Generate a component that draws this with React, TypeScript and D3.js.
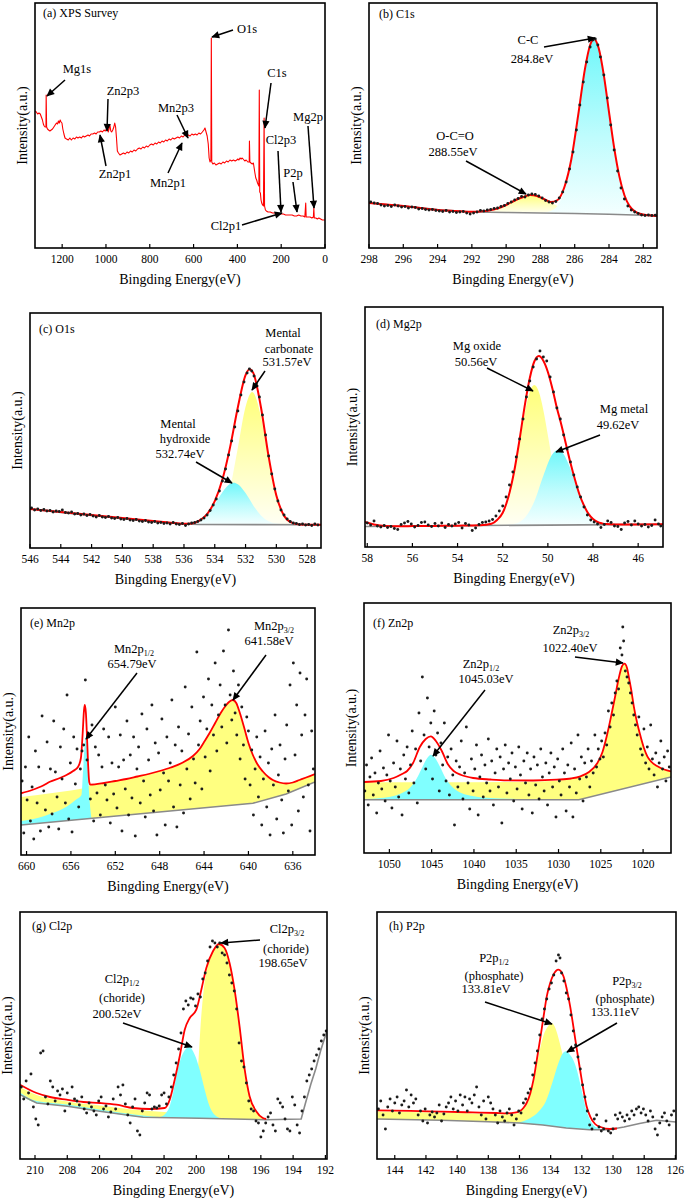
import React from 'react';
import * as d3 from 'd3';

type Pt = [number, number];

// ================= DATA =================
// (a) survey
const surveyA: Pt[] = [[1324,137],[1318,136],[1312,134],[1306,135],[1300,134],[1295,131],[1290,128],[1286,124],[1282,122],[1278,121],[1274,121],[1273,153],[1271,121],[1267,119],[1262,118],[1256,117],[1250,118],[1244,119],[1238,121],[1232,123],[1226,125],[1221,124],[1217,127],[1213,125],[1209,128],[1205,126],[1201,125],[1197,119],[1192,114],[1187,110],[1180,109],[1172,108],[1165,110],[1158,108],[1150,110],[1142,109],[1135,111],[1128,110],[1120,111],[1112,110],[1105,112],[1098,111],[1090,112],[1082,113],[1075,112],[1068,114],[1060,114],[1052,115],[1045,114],[1038,116],[1030,116],[1023,117],[1016,116],[1009,118],[1003,117],[998,119],[994,122],[990,116],[986,119],[982,123],[978,117],[974,116],[969,118],[964,121],[960,125],[956,121],[952,110],[948,97],[943,95],[936,93],[928,94],[920,95],[912,94],[904,96],[896,95],[888,97],[880,96],[872,98],[864,97],[856,99],[848,100],[840,99],[832,101],[824,100],[816,102],[808,101],[800,103],[792,104],[784,103],[776,105],[768,104],[760,106],[752,105],[744,107],[736,106],[728,108],[720,107],[712,109],[704,108],[696,110],[688,109],[680,110],[672,111],[664,110],[656,112],[648,111],[640,113],[632,112],[624,113],[616,112],[608,114],[600,113],[592,114],[584,113],[576,115],[568,114],[560,116],[553,118],[548,120],[543,116],[538,112],[533,104],[529,90],[525,86],[521,88],[519,210],[517,86],[512,84],[505,85],[498,83],[490,84],[482,85],[474,84],[466,86],[458,85],[450,87],[442,86],[434,88],[426,87],[418,88],[410,87],[403,88],[398,89],[393,88],[388,90],[383,89],[378,90],[374,89],[370,88],[366,87],[360,88],[352,86],[346,86],[345,107],[343,86],[338,85],[332,84],[327,85],[320,75],[316,70],[312,68],[308,65],[304,63],[302,62],[300,158],[298,56],[295,55],[292,48],[289,45],[285,43],[281,42],[278,130],[276,42],[272,38],[268,37],[260,36],[250,36],[240,35],[230,35],[220,35],[210,34],[200,34],[190,34],[180,33],[170,33],[160,33],[150,33],[140,32],[130,32],[120,33],[110,32],[100,32],[92,31],[88,45],[86,31],[78,31],[68,31],[60,30],[53,31],[51,40],[49,30],[42,30],[35,29],[28,30],[20,29],[12,28],[5,28],[0,28]];
const ticksA = [1200, 1000, 800, 600, 400, 200, 0];

// (b) C1s
const ticksB = [298, 296, 294, 292, 290, 288, 286, 284, 282];
const baseB: Pt[] = [[298,45],[296,42],[294,38.5],[292,36],[290,35.5],[288,35],[286,34.5],[284,33.8],[282,32.8],[281.2,32]];
const fitB: Pt[] = [[298,45],[297,43.5],[296,42],[295,40],[294,38],[293,37],[292,36.2],[291.5,36.6],[291,37.5],[290.5,39.5],[290,43],[289.5,47.5],[289,51],[288.6,53],[288.2,52],[287.8,49],[287.4,46],[287,48],[286.6,61],[286.2,88.5],[285.8,132.6],[285.4,179.4],[285.1,203],[284.88,209],[284.6,199.7],[284.3,172.6],[284,136],[283.7,100.3],[283.4,71.9],[283.1,52.8],[282.8,41.9],[282.5,36.6],[282,33.4],[281.2,32]];
const ccB: Pt[] = [[288.4,35],[287.9,35.3],[287.4,37],[286.9,45],[286.6,57],[286.2,86.8],[285.8,131.8],[285.4,179],[285.1,203],[284.88,209],[284.6,199.7],[284.3,172.6],[284,136],[283.7,100.3],[283.4,71.9],[283.1,52.8],[282.8,41.9],[282.5,36.6],[282,33.4],[281.2,32]];
const ocoB: Pt[] = [[291.85,35.8],[291.2,36.7],[290.55,39.4],[289.9,44.6],[289.25,50.6],[288.6,53.5],[287.95,50.6],[287.3,44.4],[286.65,39.2],[286,36.4],[285.35,35.2]];
const dotsB: Pt[] = [[297.9,46],[297.7,45],[297.5,44.5],[297.3,43],[297.1,42],[296.9,42.5],[296.7,41.5],[296.5,43],[296.3,42],[296.1,41],[295.9,41.5],[295.7,40],[295.5,41],[295.3,40.5],[295.1,39],[294.9,39.5],[294.7,38.5],[294.5,38],[294.3,38.5],[294.1,37.5],[293.9,37],[293.7,36.5],[293.5,37.5],[293.3,36],[293.1,36.5],[292.9,35.5],[292.7,36],[292.5,36.5],[292.3,35],[292.1,34],[291.9,35],[291.7,36],[291.5,37.5],[291.3,37],[291.1,38],[290.9,38.5],[290.7,39.5],[290.5,40],[290.3,41.5],[290.1,42.5],[289.9,44.5],[289.7,46],[289.5,48],[289.3,49.5],[289.1,51.5],[288.9,51],[288.7,53],[288.5,54],[288.3,53.5],[288.1,52],[287.9,50],[287.7,47.5],[287.5,46],[287.3,45],[287.1,46.5],[286.9,50],[286.7,56],[286.5,66],[286.3,79],[286.1,96],[285.9,118],[285.7,143],[285.5,166],[285.3,186],[285.1,201],[284.95,208],[284.8,209],[284.65,203],[284.5,191],[284.3,173],[284.1,150],[283.9,123],[283.7,98],[283.5,77],[283.3,60],[283.1,49],[282.9,42],[282.7,38],[282.5,36],[282.3,34.5],[282.1,33],[281.9,32.5],[281.7,33],[281.5,32.5],[281.3,32.8]];

// (c) O1s
const ticksC = [546, 544, 542, 540, 538, 536, 534, 532, 530, 528];
const baseC: Pt[] = [[546,39],[544,35.5],[542,32.5],[540,29.5],[538,26.5],[536,24],[535,23.5],[527.1,23.3]];
const fitC: Pt[] = [[546,39],[545,37.5],[544,36],[543,34.5],[542,33],[541,31.5],[540,30],[539,28.5],[538,27],[537,25.5],[536,24.2],[535.5,24.6],[535,27.3],[534.5,33.9],[534,46.8],[533.5,68.7],[533,101.1],[532.5,140.8],[532,172.9],[531.75,178.8],[531.5,175.1],[531,140.8],[530.5,91.3],[530,52.4],[529.5,32.3],[529,25.4],[528.5,23.6],[527.1,23.3]];
const carbC: Pt[] = [[535,23.4],[534.5,23.9],[534,26.6],[533.5,36.2],[533,60.2],[532.5,100.3],[532,141.3],[531.57,156],[531,131.5],[530.5,87.8],[530,51.4],[529.5,32.3],[529,25.4],[528.5,23.6],[528,23.3]];
const hydC: Pt[] = [[536,23.8],[535.5,24.6],[535,27.1],[534.5,33.3],[534,43.5],[533.5,55.8],[533,64.2],[532.77,65.3],[532.5,63.8],[532,54.9],[531.5,42.6],[531,32.6],[530.5,26.8],[530,24.4],[529.5,23.5],[529,23.3]];
const dotsC: Pt[] = [[545.9,40],[545.7,38],[545.5,39],[545.3,37.5],[545.1,38.5],[544.9,37],[544.7,37.5],[544.5,36],[544.3,37],[544.1,36.5],[543.9,38],[543.7,35.5],[543.5,35],[543.3,36],[543.1,34],[542.9,34.5],[542.7,33],[542.5,34],[542.3,32.5],[542.1,33.5],[541.9,32],[541.7,31],[541.5,32.5],[541.3,31],[541.1,30.5],[540.9,31.5],[540.7,30],[540.5,29.5],[540.3,30.5],[540.1,29],[539.9,28.5],[539.7,29.5],[539.5,28],[539.3,27.5],[539.1,28.5],[538.9,27],[538.7,26.5],[538.5,27.5],[538.3,26],[538.1,25.5],[537.9,26.5],[537.7,25],[537.5,25.5],[537.3,24.5],[537.1,25],[536.9,24],[536.7,25.5],[536.5,24],[536.3,23.5],[536.1,24.5],[535.9,22.5],[535.7,24],[535.5,25],[535.3,25.5],[535.1,26.5],[534.9,28],[534.7,30],[534.5,33],[534.3,37.5],[534.1,43],[533.9,49],[533.7,57],[533.5,67],[533.3,79],[533.1,93],[532.9,107],[532.7,121],[532.5,137],[532.3,153],[532.1,166],[531.9,175],[531.75,179],[531.6,177],[531.45,172],[531.3,164],[531.1,151],[530.9,133],[530.7,113],[530.5,92],[530.3,74],[530.1,59],[529.9,47],[529.7,38],[529.5,33],[529.3,29],[529.1,26.5],[528.9,25],[528.7,24.5],[528.5,23.5],[528.3,24],[528.1,23],[527.9,23.5],[527.7,22.5],[527.5,24],[527.3,23]];

// (d) Mg2p
const ticksD = [58, 56, 54, 52, 50, 48, 46];
const baseD: Pt[] = [[58.1,20.5],[53,21.5],[50,21.9],[47,22.4],[44.9,22.7]];
const fitD: Pt[] = [[58.1,25],[57.7,22.5],[57.2,21],[56.5,20.7],[56,20.9],[55,21.1],[54,21.3],[53.5,21.5],[53,21.7],[52.5,23.2],[52.25,27],[52,34.2],[51.75,50],[51.5,74.7],[51.25,108],[51,144.7],[50.8,169],[50.6,185.5],[50.4,190.9],[50.2,186.2],[50,175],[49.8,158.5],[49.6,139],[49.4,122],[49.2,103],[49,84.3],[48.8,67.5],[48.6,52.5],[48.4,41.5],[48.2,33.1],[48,28],[47.8,25],[47.6,23.6],[47.4,22.9],[47,22.5],[46,22.6],[44.9,22.7]];
const oxideD: Pt[] = [[53,21.7],[52.5,23.2],[52,34.3],[51.75,49.2],[51.5,73.4],[51.25,105],[51,136.7],[50.8,155.2],[50.6,161.9],[50.4,155.2],[50.2,136.8],[50,111.7],[49.8,85.6],[49.6,62.8],[49.4,45.9],[49.2,34.6],[49,28.1],[48.8,24.7],[48.6,23.2],[48.2,22.3],[47.8,22.3]];
const metalD: Pt[] = [[52,21.8],[51.5,23.1],[51,29.8],[50.6,45.5],[50.2,71.3],[49.8,92.8],[49.55,97],[49.4,95.5],[49,78.3],[48.6,51.5],[48.2,33],[47.8,25],[47.4,22.9],[47,22.4]];
const dotsD: Pt[] = [[58,24],[57.85,22],[57.7,26],[57.55,21],[57.4,20],[57.25,21.5],[57.1,19.5],[56.95,20.5],[56.8,18.5],[56.65,17.5],[56.5,22.5],[56.35,24],[56.2,25.5],[56.05,23],[55.9,20],[55.75,21.5],[55.6,24.5],[55.45,25],[55.3,22],[55.15,20.5],[55,23.5],[54.85,21],[54.7,24],[54.55,19.5],[54.4,22.5],[54.25,21],[54.1,23],[53.95,24.5],[53.8,19],[53.65,23.5],[53.5,22],[53.35,16.5],[53.2,19],[53.05,22.5],[52.9,24.5],[52.75,25],[52.6,26],[52.45,27.5],[52.3,31],[52.15,36],[52,41],[51.85,50],[51.7,62],[51.55,75],[51.4,90],[51.25,108],[51.1,128],[50.95,150],[50.8,166],[50.65,180],[50.5,188],[50.35,196],[50.2,190],[50.05,186],[49.9,170],[49.75,155],[49.6,139],[49.45,128],[49.3,112],[49.15,98],[49,85],[48.85,72],[48.7,60],[48.55,50],[48.4,40],[48.25,32],[48.1,27],[47.95,25],[47.8,23],[47.65,19.5],[47.5,22.5],[47.35,26],[47.2,24.5],[47.05,21],[46.9,20.5],[46.75,17.5],[46.6,24],[46.45,25.5],[46.3,22],[46.15,26],[46,23],[45.85,21],[45.7,22.5],[45.55,20],[45.4,21.5],[45.25,27],[45.1,23],[45,21]];

// (e) Mn2p
const ticksE = [660, 656, 652, 648, 644, 640, 636];
const baseE: Pt[] = [[660.5,30],[654.3,36.5],[639.6,51.7],[636.6,61],[634,73]];
const fitE: Pt[] = [[660.5,61.7],[659.5,65],[658.5,69.5],[657.9,73.3],[657,77],[656.4,80],[655.8,84],[655.35,88.3],[655.1,97],[654.95,120],[654.82,145],[654.75,150],[654.65,142],[654.55,118],[654.45,90],[654.35,73],[654.25,70.3],[653,72],[652,74],[651,76],[650,78.5],[649,81],[648,84],[647,87.5],[646,92],[645,99],[644.4,106],[644,113],[643.5,122],[643,132],[642.5,142],[642,150],[641.7,153.5],[641.4,155],[641.1,152],[640.8,143],[640.4,128],[640,112],[639.6,100],[639.2,91],[638.7,83.5],[638.2,78],[637.8,75],[637.2,72.5],[636.6,71.5],[636,72.5],[635.4,75],[634.8,77.5],[634,81]];
const p32E: Pt[] = [[660.5,58],[659,60],[658,61.5],[657,63],[656,64.5],[655.2,66],[654.6,68],[654.25,70],[653,72],[652,74],[651,76],[650,78.5],[649,81],[648,84],[647,87.5],[646,92],[645,99],[644.4,106],[644,113],[643.5,122],[643,132],[642.5,142],[642,150],[641.7,153.5],[641.4,155],[641.1,152],[640.8,143],[640.4,128],[640,112],[639.6,100],[639.2,91],[638.7,83.5],[638.2,78],[637.8,75],[637.2,72.5],[636.6,71.5],[636,72.5],[635.4,75],[634.8,77.5],[634,81]];
const p12E: Pt[] = [[660.5,34],[659,37],[657.9,41],[656.4,48.3],[655.5,55.7],[655.05,60],[654.9,85],[654.66,118],[654.45,78],[654.24,45],[654.15,36.7]];
const dotsE: Pt[] = [[660.4,74],[660.25,22],[660.1,88],[659.95,55],[659.8,118],[659.65,34],[659.5,68],[659.35,16],[659.2,104],[659.05,52],[658.9,88],[658.75,24],[658.6,139],[658.45,64],[658.3,45],[658.15,113],[658,28],[657.85,86],[657.7,41],[657.55,134],[657.4,83],[657.25,58],[657.1,26],[656.95,108],[656.8,76],[656.65,126],[656.5,52],[656.35,160],[656.2,36],[656.05,92],[655.9,23],[655.75,118],[655.6,71],[655.45,106],[655.3,48],[655.15,86],[655,104],[654.85,110],[654.7,175],[654.55,95],[654.4,118],[654.25,56],[654.1,130],[653.95,34],[653.8,108],[653.65,62],[653.5,100],[653.35,40],[653.2,88],[653.05,126],[652.9,70],[652.75,55],[652.6,118],[652.45,32],[652.3,92],[652.15,61],[652,148],[651.85,47],[651.7,88],[651.55,120],[651.4,24],[651.25,95],[651.1,66],[650.95,134],[650.8,40],[650.65,100],[650.5,57],[650.35,118],[650.2,19],[650.05,86],[649.9,108],[649.75,52],[649.6,141],[649.45,74],[649.3,38],[649.15,126],[649,95],[648.85,60],[648.7,150],[648.55,44],[648.4,112],[648.25,20],[648.1,102],[647.95,65],[647.8,136],[647.65,82],[647.5,30],[647.35,118],[647.2,74],[647.05,92],[646.9,155],[646.75,48],[646.6,110],[646.45,28],[646.3,128],[646.15,70],[646,104],[645.85,42],[645.7,168],[645.55,86],[645.4,121],[645.25,56],[645.1,148],[644.95,96],[644.8,72],[644.65,203],[644.5,110],[644.35,134],[644.2,66],[644.05,158],[643.9,98],[643.75,126],[643.6,176],[643.45,84],[643.3,150],[643.15,120],[643,192],[642.85,104],[642.7,140],[642.55,170],[642.4,128],[642.25,204],[642.1,150],[641.95,112],[641.8,225],[641.65,160],[641.5,135],[641.35,184],[641.2,142],[641.05,120],[640.9,170],[640.75,96],[640.6,148],[640.45,110],[640.3,76],[640.15,138],[640,124],[639.85,70],[639.7,105],[639.55,40],[639.4,86],[639.25,118],[639.1,58],[638.95,98],[638.8,30],[638.65,76],[638.5,124],[638.35,48],[638.2,92],[638.05,20],[637.9,106],[637.75,70],[637.6,140],[637.45,36],[637.3,80],[637.15,110],[637,55],[636.85,22],[636.7,96],[636.55,130],[636.4,64],[636.25,170],[636.1,30],[635.95,192],[635.8,100],[635.65,150],[635.5,44],[635.35,182],[635.2,120],[635.05,58],[634.9,140],[634.75,176],[634.6,70],[634.45,24],[634.3,124],[634.15,86]];

// (f) Zn2p
const ticksF = [1050, 1045, 1040, 1035, 1030, 1025, 1020];
const baseF: Pt[] = [[1053,53.3],[1027.6,53.3],[1016.7,76]];
const fitF: Pt[] = [[1053,71],[1051,72],[1049.5,75],[1048.5,79],[1047.9,82],[1047.2,90],[1046.4,106],[1045.7,114],[1045.1,116.7],[1044.5,112],[1043.8,102],[1043.1,89],[1042.4,82],[1041.5,78],[1040.1,75],[1038,73.5],[1036.1,72.7],[1033,72.5],[1030.2,73.3],[1028.5,74.5],[1027.4,76.7],[1026.4,81],[1025.4,90],[1024.8,101],[1024.3,116.7],[1023.8,136],[1023.3,156.7],[1022.9,174],[1022.5,186.7],[1022.2,189.3],[1021.9,185],[1021.7,176.7],[1021.4,163],[1021.1,146.7],[1020.7,130],[1020.3,116.7],[1019.9,105],[1019.5,96.7],[1019,91],[1018.3,86.7],[1017.5,83.5],[1016.7,81.7]];
const p32F: Pt[] = [[1053,70.7],[1045,70.7],[1035,71],[1030.2,72.3],[1028.5,74],[1027.4,76.5],[1026.4,81],[1025.4,90],[1024.8,101],[1024.3,116.7],[1023.8,136],[1023.3,156.7],[1022.9,174],[1022.5,186.7],[1022.2,189.3],[1021.9,185],[1021.7,176.7],[1021.4,163],[1021.1,146.7],[1020.7,130],[1020.3,116.7],[1019.9,105],[1019.5,96.7],[1019,91],[1018.3,86.7],[1017.5,83.5],[1016.7,81.7]];
const p12F: Pt[] = [[1053,54],[1051,55],[1049.5,57],[1048.5,60],[1047.6,65],[1046.8,74],[1046.2,84],[1045.6,94],[1045.1,98.3],[1044.6,95],[1044,86],[1043.3,74],[1042.5,65.5],[1041.5,60],[1040,56.8],[1038,55],[1035,54],[1032,53.6],[1029,53.3]];
const dotsF: Pt[] = [[1052.9,62],[1052.7,88],[1052.5,48],[1052.3,76],[1052.1,95],[1051.9,58],[1051.7,80],[1051.5,40],[1051.3,70],[1051.1,102],[1050.9,64],[1050.7,85],[1050.5,52],[1050.3,78],[1050.1,118],[1049.9,72],[1049.7,45],[1049.5,90],[1049.3,66],[1049.1,112],[1048.9,56],[1048.7,84],[1048.5,38],[1048.3,98],[1048.1,74],[1047.9,106],[1047.7,60],[1047.5,88],[1047.3,122],[1047.1,70],[1046.9,104],[1046.7,50],[1046.5,140],[1046.3,92],[1046.1,176],[1045.9,118],[1045.7,84],[1045.5,155],[1045.3,106],[1045.1,130],[1044.9,74],[1044.7,142],[1044.5,98],[1044.3,120],[1044.1,62],[1043.9,110],[1043.7,88],[1043.5,130],[1043.3,72],[1043.1,96],[1042.9,58],[1042.7,104],[1042.5,78],[1042.3,28],[1042.1,92],[1041.9,66],[1041.7,86],[1041.5,112],[1041.3,54],[1041.1,80],[1040.9,126],[1040.7,70],[1040.5,44],[1040.3,94],[1040.1,62],[1039.9,84],[1039.7,108],[1039.5,38],[1039.3,76],[1039.1,98],[1038.9,56],[1038.7,88],[1038.5,70],[1038.3,114],[1038.1,62],[1037.9,92],[1037.7,48],[1037.5,80],[1037.3,104],[1037.1,66],[1036.9,96],[1036.7,30],[1036.5,84],[1036.3,108],[1036.1,60],[1035.9,90],[1035.7,74],[1035.5,100],[1035.3,52],[1035.1,86],[1034.9,64],[1034.7,106],[1034.5,78],[1034.3,44],[1034.1,92],[1033.9,70],[1033.7,100],[1033.5,58],[1033.3,84],[1033.1,40],[1032.9,96],[1032.7,68],[1032.5,88],[1032.3,54],[1032.1,104],[1031.9,76],[1031.7,62],[1031.5,90],[1031.3,48],[1031.1,80],[1030.9,100],[1030.7,66],[1030.5,86],[1030.3,36],[1030.1,94],[1029.9,72],[1029.7,58],[1029.5,104],[1029.3,80],[1029.1,42],[1028.9,88],[1028.7,66],[1028.5,110],[1028.3,36],[1028.1,84],[1027.9,60],[1027.7,118],[1027.5,74],[1027.3,96],[1027.1,52],[1026.9,90],[1026.7,76],[1026.5,104],[1026.3,66],[1026.1,92],[1025.9,80],[1025.7,118],[1025.5,86],[1025.3,104],[1025.1,94],[1024.9,112],[1024.7,96],[1024.5,120],[1024.3,108],[1024.1,142],[1023.9,126],[1023.7,150],[1023.5,138],[1023.3,160],[1023.1,172],[1022.9,164],[1022.7,205],[1022.5,198],[1022.4,226],[1022.3,212],[1022.1,182],[1021.9,176],[1021.7,170],[1021.5,160],[1021.3,150],[1021.1,138],[1020.9,128],[1020.7,118],[1020.5,136],[1020.3,104],[1020.1,98],[1019.9,124],[1019.7,90],[1019.5,106],[1019.3,84],[1019.1,128],[1018.9,94],[1018.7,78],[1018.5,100],[1018.3,66],[1018.1,90],[1017.9,112],[1017.7,84],[1017.5,96],[1017.3,72],[1017.1,102],[1016.9,86]];

// (g) Cl2p
const ticksG = [210, 208, 206, 204, 202, 200, 198, 196, 194, 192];
const baseG: Pt[] = [[210.93,64.3],[209.9,56],[208,52.7],[206,47.7],[203.3,41.7],[199.8,40.7],[195.7,39.3],[193.5,40],[193.25,55],[192.9,75],[192.6,90],[192.3,108],[191.93,127]];
const fitG: Pt[] = [[210.93,74.3],[209.9,66],[209.07,62],[208.04,59.3],[207,57],[205.98,56],[204.95,54.3],[203.92,51],[202.89,50],[201.96,51],[201.65,59.3],[201.34,79.3],[201.03,102.7],[200.72,129.3],[200.41,141],[200,149.3],[199.69,169.3],[199.38,191],[198.97,207.7],[198.6,215],[198.25,211],[197.94,196],[197.63,169.3],[197.32,132.7],[197,89.3],[196.7,62.7],[196.29,47.7],[195.88,41],[195.67,40]];
const p32G: Pt[] = [[210.93,72],[209.9,64],[208,57.5],[206,53.5],[204,49.5],[202.9,48],[202,47],[201.5,46.5],[201,47],[200.5,49.5],[200.2,55],[200,68],[199.86,100],[199.73,135],[199.55,168],[199.3,192],[199,206],[198.66,214.3],[198.25,210],[197.94,195],[197.63,168],[197.32,131],[197,88],[196.7,62],[196.29,47],[195.88,40.5],[195.67,39.6]];
const p12G: Pt[] = [[210.93,66.5],[209.9,58],[208,54.5],[206,49.5],[203.3,43.5],[202.27,42],[201.75,49],[201.44,66],[201.13,91],[200.82,106],[200.45,112],[200.1,104.3],[199.79,89.3],[199.48,69.3],[199.18,52.7],[198.76,42.7],[198.35,40.3],[198,40.2]];
const dotsG: Pt[] = [[210.85,72],[210.7,60],[210.55,78],[210.4,66],[210.25,85],[210.1,52],[209.95,40],[209.8,34],[209.65,106],[209.5,108],[209.35,62],[209.2,55],[209.05,78],[208.9,72],[208.75,58],[208.6,68],[208.45,64],[208.3,70],[208.15,48],[208,66],[207.85,55],[207.7,72],[207.55,60],[207.4,58],[207.25,54],[207.1,62],[206.95,50],[206.8,46],[206.65,56],[206.5,52],[206.35,48],[206.2,44],[206.05,58],[205.9,62],[205.75,50],[205.6,53],[205.45,42],[205.3,47],[205.15,60],[205,50],[204.85,72],[204.7,64],[204.55,74],[204.4,55],[204.25,44],[204.1,36],[203.95,52],[203.8,60],[203.65,28],[203.5,24],[203.35,48],[203.2,56],[203.05,66],[202.9,64],[202.75,50],[202.6,52],[202.45,51],[202.3,53],[202.15,64],[202,66],[201.85,55],[201.7,62],[201.55,72],[201.4,84],[201.25,96],[201.1,110],[200.95,126],[200.8,150],[200.65,158],[200.5,154],[200.35,161],[200.2,160],[200.05,153],[199.9,165],[199.75,162],[199.6,180],[199.45,186],[199.3,198],[199.15,212],[199,218],[198.85,216],[198.7,212],[198.55,216],[198.4,206],[198.25,204],[198.1,196],[197.95,184],[197.8,176],[197.65,168],[197.5,150],[197.35,116],[197.2,98],[197.05,92],[196.9,76],[196.75,58],[196.6,50],[196.45,48],[196.3,38],[196.15,36],[196,22],[195.85,28],[195.7,36],[195.55,42],[195.4,46],[195.25,34],[195.1,28],[194.95,60],[194.8,56],[194.65,52],[194.5,40],[194.35,30],[194.2,28],[194.05,62],[193.9,54],[193.75,34],[193.6,26],[193.45,48],[193.3,62],[193.15,78],[193,84],[192.85,90],[192.7,98],[192.55,104],[192.4,110],[192.25,118],[192.1,124],[191.95,128]];

// (h) P2p
const ticksH = [144, 142, 140, 138, 136, 134, 132, 130, 128, 126];
const baseH: Pt[] = [[145.14,40],[141,38.7],[138,37.3],[136,36],[134.5,34],[133,31],[131.5,29.3],[130.3,29.3],[129.3,32],[128.3,35.5],[127.2,38.7],[125.96,37]];
const fitH: Pt[] = [[145.14,48.7],[143,48.2],[141,47.3],[139,46.6],[137.5,46],[136.8,45.7],[136.3,46.3],[136,47.7],[135.75,51],[135.54,56],[135.3,66],[135.1,79.3],[134.9,98],[134.68,119.3],[134.45,143],[134.25,162.7],[134.03,176],[133.82,184.3],[133.5,189.3],[133.18,182.7],[132.97,170],[132.75,152.7],[132.53,131],[132.32,109.3],[132.1,88],[131.9,69.3],[131.7,53],[131.47,42.7],[131.15,35],[130.8,32],[130.2,30],[129.75,30.5]];
const p12H: Pt[] = [[145.14,47.5],[141,46.3],[138,45],[137,44.5],[136.3,45],[136,46.5],[135.75,50],[135.5,55],[135.3,64],[135.1,76],[134.9,93],[134.68,110],[134.45,124],[134.2,132],[133.93,136],[133.7,131],[133.45,118],[133.2,102],[132.95,84],[132.7,66],[132.45,50],[132.2,39],[131.9,33],[131.5,30]];
const p32H: Pt[] = [[136.3,36],[135.8,37.5],[135.3,41],[134.8,47],[134.3,58],[133.9,76],[133.5,96],[133.25,105],[133.03,107.7],[132.8,105],[132.55,99],[132.3,88],[132.1,75],[131.9,61],[131.7,48],[131.47,39],[131.2,33],[130.9,30.5],[130.5,29.3]];
const dotsH: Pt[] = [[145.05,50],[144.9,58],[144.75,44],[144.6,30],[144.45,52],[144.3,60],[144.15,48],[144,56],[143.85,62],[143.7,46],[143.55,54],[143.4,58],[143.25,69],[143.1,52],[142.95,64],[142.8,56],[142.65,60],[142.5,44],[142.35,48],[142.2,38],[142.05,50],[141.9,36],[141.75,44],[141.6,47],[141.45,42],[141.3,46],[141.15,54],[141,38],[140.85,45],[140.7,52],[140.55,56],[140.4,62],[140.25,50],[140.1,58],[139.95,48],[139.8,64],[139.65,54],[139.5,62],[139.35,48],[139.2,60],[139.05,56],[138.9,64],[138.75,72],[138.6,52],[138.45,44],[138.3,58],[138.15,40],[138,62],[137.85,56],[137.7,50],[137.55,44],[137.4,36],[137.25,48],[137.1,42],[136.95,38],[136.8,46],[136.65,50],[136.5,44],[136.35,34],[136.2,40],[136.05,48],[135.9,46],[135.75,56],[135.6,60],[135.45,66],[135.3,70],[135.15,84],[135,96],[134.85,108],[134.7,124],[134.55,140],[134.4,150],[134.25,160],[134.1,170],[133.95,176],[133.8,184],[133.65,198],[133.5,204],[133.4,201],[133.3,186],[133.15,178],[133,166],[132.85,160],[132.7,144],[132.55,128],[132.4,114],[132.25,102],[132.1,90],[131.95,74],[131.8,62],[131.65,48],[131.5,34],[131.35,30],[131.2,40],[131.05,44],[130.9,32],[130.75,28],[130.6,30],[130.45,38],[130.3,28],[130.15,26],[130,30],[129.85,44],[129.7,40],[129.55,46],[129.4,42],[129.25,38],[129.1,44],[128.95,40],[128.8,48],[128.65,44],[128.5,50],[128.35,52],[128.2,46],[128.05,50],[127.9,44],[127.75,38],[127.6,48],[127.45,42],[127.3,30],[127.15,24],[127,36],[126.85,42],[126.7,46],[126.55,38],[126.4,34],[126.25,44],[126.1,48]];

// ================= LAYOUT =================
const FONT = '"Liberation Serif", "Times New Roman", Times, serif';
const CYAN = '#80ffff';
const YELLOW = '#ffff80';

type Note = { x: number; y: number; t: string; sub?: string };
type Comp = { data: Pt[]; fill: string };
type Spec = {
  id: string; x0: number; x1: number; y0: number; y1: number;
  xDomain: [number, number]; ticks: number[];
  label: string; lx: number; ly: number;
  fit?: Pt[]; fitW: number; smooth: boolean; base?: Pt[]; comps: Comp[]; dots?: Pt[];
  notes: Note[]; arrows: number[][]; noteSize: number;
};

const specs: Spec[] = [
  {
    id: 'a', x0: 35, x1: 325, y0: 3, y1: 248, xDomain: [1324, 0], ticks: ticksA,
    label: '(a) XPS Survey', lx: 43, ly: 17, fit: surveyA, fitW: 1.1, smooth: false, comps: [],
    noteSize: 12.5,
    notes: [
      { x: 77, y: 73, t: 'Mg1s' }, { x: 123, y: 95, t: 'Zn2p3' }, { x: 115, y: 178, t: 'Zn2p1' },
      { x: 176, y: 112, t: 'Mn2p3' }, { x: 168, y: 187, t: 'Mn2p1' }, { x: 247, y: 33, t: 'O1s' },
      { x: 277, y: 77, t: 'C1s' }, { x: 308, y: 121, t: 'Mg2p' }, { x: 281, y: 144, t: 'Cl2p3' },
      { x: 293, y: 177, t: 'P2p' }, { x: 226, y: 230, t: 'Cl2p1' },
    ],
    arrows: [
      [65, 80, 47, 96], [108, 99, 107, 131], [106, 166, 100, 135], [177, 115, 188, 138],
      [168, 173, 182, 143], [233, 30, 212, 37], [271, 83, 265, 128], [308, 126, 314, 208],
      [278, 151, 281, 212], [293, 182, 297, 212], [242, 225, 282, 213],
    ],
  },
  {
    id: 'b', x0: 369, x1: 657, y0: 3, y1: 248, xDomain: [298, 281.2], ticks: ticksB,
    label: '(b) C1s', lx: 379, ly: 18, fit: fitB, fitW: 2, smooth: true, base: baseB,
    comps: [{ data: ocoB, fill: 'url(#gradY)' }, { data: ccB, fill: 'url(#gradC)' }], dots: dotsB,
    noteSize: 12.5,
    notes: [{ x: 528, y: 44, t: 'C-C' }, { x: 532, y: 63, t: '284.8eV' }, { x: 455, y: 140, t: 'O-C=O' }, { x: 453, y: 156, t: '288.55eV' }],
    arrows: [[544, 47, 595, 38], [466, 161, 526, 194]],
  },
  {
    id: 'c', x0: 30, x1: 321, y0: 313, y1: 548, xDomain: [546, 527.1], ticks: ticksC,
    label: '(c) O1s', lx: 39, ly: 333, fit: fitC, fitW: 2, smooth: true, base: baseC,
    comps: [{ data: carbC, fill: 'url(#gradY)' }, { data: hydC, fill: 'url(#gradC)' }], dots: dotsC,
    noteSize: 12.5,
    notes: [
      { x: 283, y: 337, t: 'Mental' }, { x: 289, y: 353, t: 'carbonate' }, { x: 287, y: 366, t: '531.57eV' },
      { x: 178, y: 428, t: 'Mental' }, { x: 185, y: 443, t: 'hydroxide' }, { x: 180, y: 458, t: '532.74eV' },
    ],
    arrows: [[265, 371, 252, 390], [196, 462, 232, 483]],
  },
  {
    id: 'd', x0: 365, x1: 663, y0: 307, y1: 547, xDomain: [58.1, 44.9], ticks: ticksD,
    label: '(d) Mg2p', lx: 376, ly: 328, fit: fitD, fitW: 2, smooth: true, base: baseD,
    comps: [{ data: oxideD, fill: 'url(#gradY)' }, { data: metalD, fill: 'url(#gradC)' }], dots: dotsD,
    noteSize: 12.5,
    notes: [{ x: 477, y: 350, t: 'Mg oxide' }, { x: 476, y: 366, t: '50.56eV' }, { x: 624, y: 413, t: 'Mg metal' }, { x: 618, y: 429, t: '49.62eV' }],
    arrows: [[487, 368, 533, 391], [600, 435, 556, 452]],
  },
  {
    id: 'e', x0: 21, x1: 315, y0: 608, y1: 855, xDomain: [660.5, 634], ticks: ticksE,
    label: '(e) Mn2p', lx: 30, ly: 627, fit: fitE, fitW: 1.8, smooth: true, base: baseE,
    comps: [{ data: p32E, fill: YELLOW }, { data: p12E, fill: CYAN }], dots: dotsE,
    noteSize: 12.5,
    notes: [
      { x: 134, y: 653, t: 'Mn2p', sub: '1/2' }, { x: 132, y: 668, t: '654.79eV' },
      { x: 274, y: 630, t: 'Mn2p', sub: '3/2' }, { x: 269, y: 645, t: '641.58eV' },
    ],
    arrows: [[137, 673, 86, 739], [266, 655, 233, 700]],
  },
  {
    id: 'f', x0: 364, x1: 671, y0: 603, y1: 853, xDomain: [1053, 1016.7], ticks: ticksF,
    label: '(f) Zn2p', lx: 373, ly: 627, fit: fitF, fitW: 1.8, smooth: true, base: baseF,
    comps: [{ data: p32F, fill: YELLOW }, { data: p12F, fill: CYAN }], dots: dotsF,
    noteSize: 12.5,
    notes: [
      { x: 571, y: 634, t: 'Zn2p', sub: '3/2' }, { x: 570, y: 652, t: '1022.40eV' },
      { x: 481, y: 668, t: 'Zn2p', sub: '1/2' }, { x: 486, y: 683, t: '1045.03eV' },
    ],
    arrows: [[575, 657, 623, 663], [485, 690, 433, 756]],
  },
  {
    id: 'g', x0: 20, x1: 327, y0: 912, y1: 1159, xDomain: [210.93, 191.9], ticks: ticksG,
    label: '(g) Cl2p', lx: 32, ly: 930, fit: fitG, fitW: 1.8, smooth: true, base: baseG,
    comps: [{ data: p32G, fill: YELLOW }, { data: p12G, fill: CYAN }], dots: dotsG,
    noteSize: 12.5,
    notes: [
      { x: 287, y: 933, t: 'Cl2p', sub: '3/2' }, { x: 286, y: 953, t: '(choride)' }, { x: 283, y: 967, t: '198.65eV' },
      { x: 122, y: 983, t: 'Cl2p', sub: '1/2' }, { x: 122, y: 1002, t: '(choride)' }, { x: 117, y: 1018, t: '200.52eV' },
    ],
    arrows: [[260, 940, 221, 943], [123, 1023, 192, 1047]],
  },
  {
    id: 'h', x0: 377, x1: 676, y0: 912, y1: 1159, xDomain: [145.14, 125.96], ticks: ticksH,
    label: '(h) P2p', lx: 389, ly: 930, fit: fitH, fitW: 1.8, smooth: true, base: baseH,
    comps: [{ data: p12H, fill: YELLOW }, { data: p32H, fill: CYAN }], dots: dotsH,
    noteSize: 12.5,
    notes: [
      { x: 494, y: 962, t: 'P2p', sub: '1/2' }, { x: 494, y: 980, t: '(phosphate)' }, { x: 486, y: 993, t: '133.81eV' },
      { x: 627, y: 985, t: 'P2p', sub: '3/2' }, { x: 625, y: 1003, t: '(phosphate)' }, { x: 615, y: 1016, t: '133.11eV' },
    ],
    arrows: [[485, 1002, 552, 1024], [617, 1023, 567, 1052]],
  },
];

function Panel({ s }: { s: Spec }) {
  const x = d3.scaleLinear().domain(s.xDomain).range([s.x0, s.x1]);
  const y = d3.scaleLinear().domain([0, s.y1 - s.y0]).range([s.y1, s.y0]);
  const smoothLine = d3.line<Pt>().x(d => x(d[0])).y(d => y(d[1])).curve(d3.curveMonotoneX);
  const straight = d3.line<Pt>().x(d => x(d[0])).y(d => y(d[1]));
  const bs = s.base
    ? d3.scaleLinear().domain(s.base.map(d => d[0])).range(s.base.map(d => d[1])).clamp(true)
    : null;
  const area = d3.area<Pt>()
    .x(d => x(d[0]))
    .y1(d => y(d[1]))
    .y0(d => y(bs ? bs(d[0]) : 0))
    .curve(d3.curveMonotoneX);
  const clipId = `clip-${s.id}`;
  return (
    <g>
      <defs>
        <clipPath id={clipId}>
          <rect x={s.x0} y={s.y0} width={s.x1 - s.x0} height={s.y1 - s.y0} />
        </clipPath>
      </defs>
      <g clipPath={`url(#${clipId})`}>
        {s.comps.map((c, i) => (
          <path key={i} d={area(c.data) || ''} fill={c.fill} stroke="none" />
        ))}
        {s.base && <path d={straight(s.base) || ''} fill="none" stroke="#8a8a8a" strokeWidth={1.6} />}
        {s.fit && (
          <path d={(s.smooth ? smoothLine : straight)(s.fit) || ''} fill="none" stroke="#ff0000"
            strokeWidth={s.fitW} strokeLinejoin="round" />
        )}
        {s.dots && s.dots.map((d, i) => (
          <circle key={i} cx={x(d[0])} cy={y(d[1])} r={1.45} fill="#1c1c1c" />
        ))}
      </g>
      <rect x={s.x0} y={s.y0} width={s.x1 - s.x0} height={s.y1 - s.y0} fill="none" stroke="#000" strokeWidth={1.6} />
      {s.ticks.map(t => (
        <g key={t}>
          <line x1={x(t)} x2={x(t)} y1={s.y1} y2={s.y1 - 4} stroke="#000" strokeWidth={1.2} />
          <text x={x(t)} y={s.y1 + 15} textAnchor="middle" fontSize={11.5} fontFamily={FONT} fill="#000">{t}</text>
        </g>
      ))}
      <text x={(s.x0 + s.x1) / 2} y={s.y1 + 36} textAnchor="middle" fontSize={14} fontFamily={FONT} fill="#000">
        Bingding Energy(eV)
      </text>
      <text transform={`translate(${s.x0 - 8.5},${(s.y0 + s.y1) / 2}) rotate(-90)`} textAnchor="middle"
        fontSize={14} fontFamily={FONT} fill="#000">Intensity(a.u.)</text>
      <text x={s.lx} y={s.ly} fontSize={12} fontFamily={FONT} fill="#000">{s.label}</text>
      {s.notes.map((n, i) => (
        <text key={i} x={n.x} y={n.y} textAnchor="middle" fontSize={s.noteSize} fontFamily={FONT} fill="#000">
          {n.t}
          {n.sub && <tspan fontSize={8} dy={3}>{n.sub}</tspan>}
        </text>
      ))}
      {s.arrows.map((a, i) => (
        <line key={i} x1={a[0]} y1={a[1]} x2={a[2]} y2={a[3]} stroke="#000" strokeWidth={1.5} markerEnd="url(#arrowHead)" />
      ))}
    </g>
  );
}

export default function App() {
  return (
    <svg width={685} height={1202} viewBox="0 0 685 1202"
      style={{ position: 'absolute', left: 0, top: 0, background: '#fff' }}>
      <defs>
        <marker id="arrowHead" viewBox="0 0 10 10" refX={9} refY={5} markerWidth={9} markerHeight={8}
          markerUnits="userSpaceOnUse" orient="auto">
          <path d="M0,0.5 L10,5 L0,9.5 z" fill="#000" />
        </marker>
        <linearGradient id="gradC" x1="0" y1="0" x2="0" y2="1">
          <stop offset="0" stopColor="#6ff7fa" />
          <stop offset="0.55" stopColor="#bffcfd" />
          <stop offset="1" stopColor="#f5ffff" />
        </linearGradient>
        <linearGradient id="gradY" x1="0" y1="0" x2="0" y2="1">
          <stop offset="0" stopColor="#ffff78" />
          <stop offset="0.55" stopColor="#ffffbf" />
          <stop offset="1" stopColor="#fffff4" />
        </linearGradient>
      </defs>
      <rect x={0} y={0} width={685} height={1202} fill="#fff" />
      {specs.map(s => <Panel key={s.id} s={s} />)}
    </svg>
  );
}
